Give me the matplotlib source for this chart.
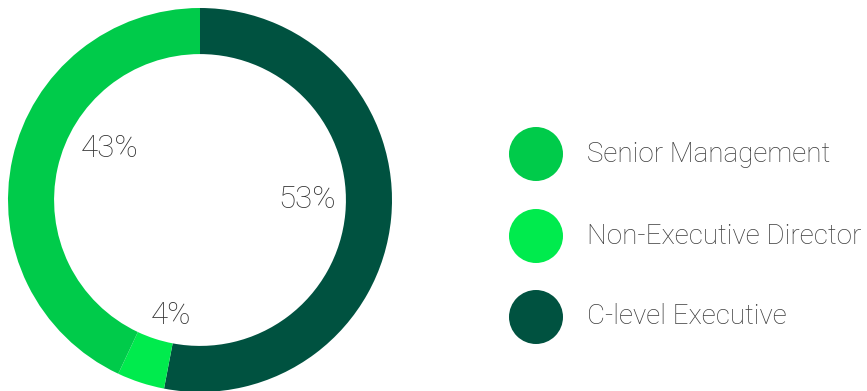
import matplotlib
matplotlib.use('Agg')
import matplotlib.pyplot as plt
from matplotlib.patches import Circle

# share of board roles
roles = ['C-level Executive', 'Non-Executive Director', 'Senior Management']
shares = [53, 4, 43]
colors = ['#005240', '#00eb4d', '#00cb4a']
legend_order = ['Senior Management', 'Non-Executive Director', 'C-level Executive']

# hand-placed label spots (ring units)
label_pos = [(0.56, 0.0), (-0.15, -0.60), (-0.47, 0.27)]

plt.rcParams['font.family'] = ['Roboto', 'DejaVu Sans']

W, H, DPI = 867, 391, 100
fig = plt.figure(figsize=(W / DPI, H / DPI), dpi=DPI)

# donut, 192 px radius centred at (200, 200)
R = 192
cx, cy = 200, 200
ax = fig.add_axes([(cx - R) / W, (H - cy - R) / H, 2 * R / W, 2 * R / H])
wedges, _ = ax.pie(shares, colors=colors, startangle=90, counterclock=False,
                   radius=1, wedgeprops=dict(width=0.24, linewidth=0))
ax.set_xlim(-1, 1)
ax.set_ylim(-1, 1)
ax.set_aspect('equal')
ax.axis('off')

for val, (x, y) in zip(shares, label_pos):
    ax.text(x, y, f'{val}%', ha='center', va='center', fontsize=22.5,
            fontweight='light', color='#333333')

# legend drawn in pixel space
lg = fig.add_axes([0, 0, 1, 1])
lg.set_xlim(0, W)
lg.set_ylim(H, 0)
lg.axis('off')
lg.patch.set_alpha(0)
row_y = [154, 236, 317]
for name, y in zip(legend_order, row_y):
    c = colors[roles.index(name)]
    lg.add_patch(Circle((536, y), 27, color=c, linewidth=0))
    lg.text(587, y, name, ha='left', va='center', fontsize=20,
            fontweight='light', color='#3c3c3c')

fig.savefig('out.png', dpi=DPI)
